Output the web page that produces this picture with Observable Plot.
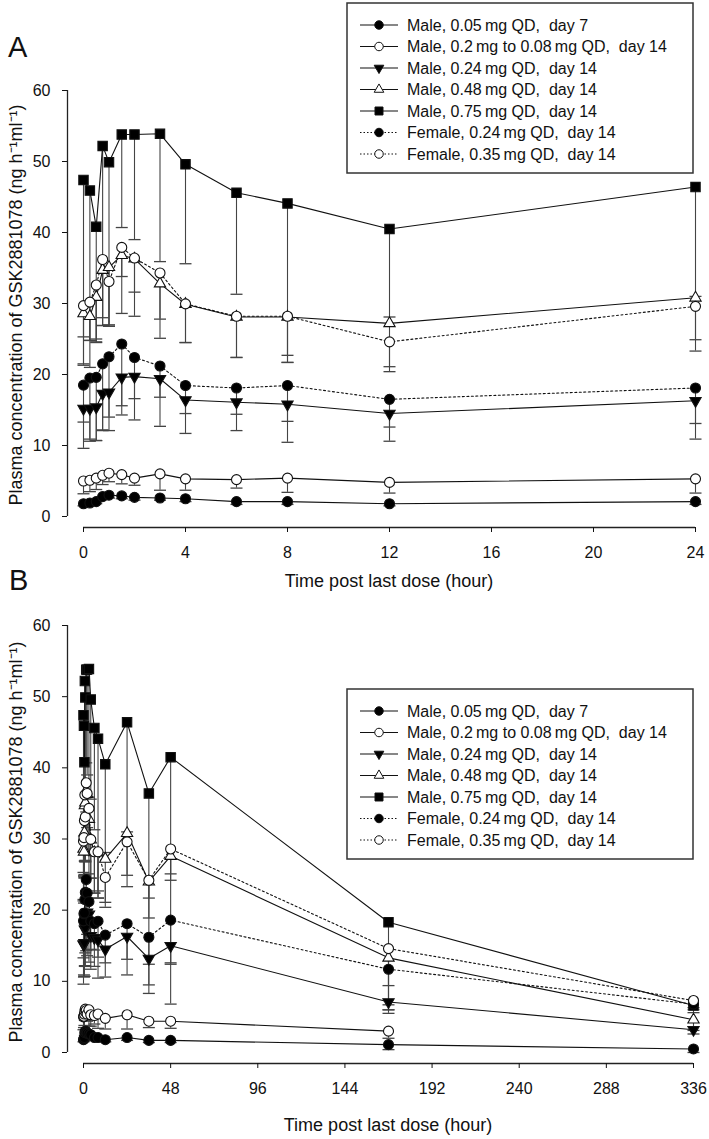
<!DOCTYPE html>
<html><head><meta charset="utf-8">
<script src="https://cdn.jsdelivr.net/npm/d3@7"></script>
<script src="https://cdn.jsdelivr.net/npm/@observablehq/plot@0.6"></script>
<style>
body{margin:0;background:#fff;}
#wrap{position:relative;width:709px;height:1139px;font-family:"Liberation Sans",Arial,sans-serif;overflow:hidden;color:#111;}
.panel{position:absolute;left:0;}
.letter{position:absolute;font-size:29px;line-height:1;}
.legend{position:absolute;}
.xtitle{position:absolute;font-size:18px;line-height:1;white-space:nowrap;transform:translate(-50%,-50%);}
.ytitle{position:absolute;font-size:18px;line-height:1;white-space:nowrap;transform:translate(-50%,-50%) rotate(-90deg);}
</style></head>
<body><div id="wrap"></div>
<script>
// ---------- data ----------
const timesA = [0, 0.25, 0.5, 0.75, 1, 1.5, 2, 3, 4, 6, 8, 12, 24];
const timesB = [0, 0.25, 0.5, 0.75, 1, 1.5, 2, 3, 4, 6, 8, 12, 24, 36, 48, 168, 336];

const seriesNames = [
  "Male, 0.05\u2009mg QD,  day 7",
  "Male, 0.2\u2009mg to 0.08\u2009mg QD,  day 14",
  "Male, 0.24\u2009mg QD,  day 14",
  "Male, 0.48\u2009mg QD,  day 14",
  "Male, 0.75\u2009mg QD,  day 14",
  "Female, 0.24\u2009mg QD,  day 14",
  "Female, 0.35\u2009mg QD,  day 14"
];

// mean concentrations (ng h-1 ml-1), indexed by timesB
const m005 = [1.8, 1.9, 2.1, 2.8, 3.0, 2.9, 2.7, 2.6, 2.5, 2.1, 2.1, 1.8, 2.1, 1.7, 1.7, 1.1, 0.5];
const m02  = [5.0, 5.1, 5.4, 5.8, 6.1, 5.9, 5.4, 6.0, 5.3, 5.2, 5.4, 4.8, 5.3, 4.4, 4.4, 3.0, null];
const m024 = [15.2, 15.2, 15.4, 17.3, 17.5, 19.6, 19.7, 19.4, 16.4, 16.1, 15.8, 14.5, 16.3, 13.2, 15.0, 7.1, 3.2];
const m048 = [28.6, 28.2, 30.9, 34.7, 35.1, 36.8, 36.3, 32.8, 29.9, 28.1, 28.1, 27.2, 30.8, 24.0, 27.6, 13.3, 4.6];
const m075 = [47.4, 45.9, 40.8, 52.2, 49.9, 53.8, 53.8, 53.9, 49.6, 45.6, 44.1, 40.5, 46.4, 36.4, 41.5, 18.3, 6.6];
const f024 = [18.5, 19.5, 19.6, 21.5, 22.5, 24.3, 22.4, 21.2, 18.45, 18.1, 18.45, 16.5, 18.1, 16.2, 18.6, 11.7, 6.8];
const f035 = [29.7, 30.2, 32.6, 36.2, 33.1, 37.9, 36.4, 34.3, 29.95, 28.2, 28.2, 24.6, 29.6, 24.2, 28.6, 14.6, 7.3];

// standard deviations (lower error bar)
const m005sd = [0.3, 0.3, 0.3, 0.4, 0.4, 0.4, 0.4, 0.3, 0.4, 0.4, 0.4, 0.3, 0.4, 0.3, 0.3, 0.7, 0.5];
const m02sd  = [1.8, 1.6, 1.6, 1.3, 1.2, 1.3, 1.0, 2.3, 1.6, 1.2, 2.0, 1.5, 2.0, 0.9, 1.0, 1.0, null];
const m024sd = [5.6, 4.6, 4.7, 5.1, 3.5, 4.0, 3.1, 2.6, 1.9, 1.7, 2.4, 1.9, 3.2, 3.7, 2.6, 1.1, 0.6];
const m048sd = [3.3, 3.4, 5.9, 6.7, 8.1, 3.0, 4.7, 5.0, 5.4, 5.7, 5.4, 6.1, 5.9, 2.3, 3.4, 7.3, 1.5];
const m075sd = [25.9, 21.1, 16.3, 25.3, 23.1, 13.1, 14.8, 18.0, 14.0, 14.3, 22.4, 12.4, 15.4, 28.1, 34.7, 8.9, 1.0];
const f024sd = [5.2, 8.6, 8.9, 9.4, 10.4, 10.0, 8.8, 8.5, 6.75, 6.0, 8.0, 5.9, 7.2, 3.8, 6.0, 5.0, 0.8];
const f035sd = [8.4, 9.2, 8.0, 9.3, 6.3, 9.3, 8.2, 9.2, 5.45, 5.8, 6.5, 4.2, 6.3, 5.3, 3.5, 9.1, 1.0];

const xTicksA = [0, 4, 8, 12, 16, 20, 24];
const xTicksB = [0, 48, 96, 144, 192, 240, 288, 336];
const yTicks = [0, 10, 20, 30, 40, 50, 60];

const yTitle = "Plasma concentration of GSK2881078 (ng h\u207B\u00B9ml\u207B\u00B9)";
const xTitle = "Time post last dose (hour)";

// ---------- symbols ----------
const downTriangle = {
  draw(ctx, size) {
    const s = Math.sqrt(size / (Math.sqrt(3) * 3));
    ctx.moveTo(0, 2 * s);
    ctx.lineTo(-Math.sqrt(3) * s, -s);
    ctx.lineTo(Math.sqrt(3) * s, -s);
    ctx.closePath();
  }
};
const capSymbol = {
  draw(ctx, size) {
    const w = Math.sqrt(size / Math.PI);
    ctx.moveTo(-w, 0);
    ctx.lineTo(w, 0);
  }
};

const means = [m005, m02, m024, m048, m075, f024, f035];
const sds = [m005sd, m02sd, m024sd, m048sd, m075sd, f024sd, f035sd];
const styles = [
  {symbol: "circle", fill: "black", r: 5, dash: null, d3sym: d3.symbolCircle},
  {symbol: "circle", fill: "white", r: 5, dash: null, d3sym: d3.symbolCircle},
  {symbol: downTriangle, fill: "black", r: 4.2, dash: null, d3sym: downTriangle},
  {symbol: "triangle", fill: "white", r: 4.2, dash: null, d3sym: d3.symbolTriangle},
  {symbol: "square", fill: "black", r: 5.3, dash: null, d3sym: d3.symbolSquare},
  {symbol: "circle", fill: "black", r: 5, dash: "2,2.5", d3sym: d3.symbolCircle},
  {symbol: "circle", fill: "white", r: 5, dash: "2,2.5", d3sym: d3.symbolCircle}
];

function rowsFor(times) {
  return seriesNames.map((name, i) =>
    times.map((t, j) => ({series: name, t, v: means[i][j], sd: sds[i][j]}))
      .filter(d => d.v != null)
  );
}

function panel(times, xDomain, xTicks, height, marginTop, marginBottom, marginRight) {
  const perSeries = rowsFor(times);
  const all = perSeries.flat();
  const marks = [];
  // axes lines (detached, SigmaPlot style)
  marks.push(Plot.ruleX([xDomain[0]], {y1: 0, y2: 60, dx: -16, stroke: "#222", strokeWidth: 1.3}));
  marks.push(Plot.ruleY([0], {x1: xDomain[0], x2: xDomain[1], dy: 11, stroke: "#222", strokeWidth: 1.3}));
  marks.push(Plot.axisY({ticks: yTicks, dx: -16, tickSize: 5, tickPadding: 12, fontSize: 16, label: null}));
  marks.push(Plot.axisX({ticks: xTicks, dy: 11, tickSize: 5, tickPadding: 14, fontSize: 16, label: null}));
  // error bars (lower only)
  marks.push(Plot.ruleX(all, {x: "t", y1: d => d.v - d.sd, y2: "v", stroke: "#444", strokeWidth: 1.1}));
  marks.push(Plot.dot(all, {x: "t", y: d => d.v - d.sd, symbol: capSymbol, r: 6, stroke: "#444", strokeWidth: 1.3, fill: "none"}));
  // lines
  perSeries.forEach((rows, i) => {
    marks.push(Plot.line(rows, {x: "t", y: "v", stroke: "#111", strokeWidth: 1.1,
      strokeDasharray: styles[i].dash || undefined}));
  });
  // markers
  perSeries.forEach((rows, i) => {
    const s = styles[i];
    marks.push(Plot.dot(rows, {x: "t", y: "v", symbol: s.symbol, r: s.r, fill: s.fill, stroke: "#111", strokeWidth: 1.1}));
  });
  return Plot.plot({
    width: 709, height, marginTop, marginBottom, marginLeft: 83, marginRight,
    x: {domain: xDomain, axis: null},
    y: {domain: [0, 60], axis: null},
    style: {fontFamily: "'Liberation Sans', Arial, sans-serif", fontSize: "16px", color: "#111", background: "white"},
    marks
  });
}

const wrap = document.getElementById("wrap");
const pA = panel(timesA, [0, 24], xTicksA, 590, 90, 74, 14);
pA.classList.add("panel"); pA.style.top = "0px";
const pB = panel(timesB, [0, 336], xTicksB, 549, 35, 87, 16);
pB.classList.add("panel"); pB.style.top = "590px";
wrap.appendChild(pA); wrap.appendChild(pB);

function addDiv(cls, txt, x, y) {
  const d = document.createElement("div");
  d.className = cls; d.textContent = txt;
  d.style.left = x + "px"; d.style.top = y + "px";
  wrap.appendChild(d);
}
// panel letters
addDiv("letter", "A", 8, 33);
addDiv("letter", "B", 9, 566);
// axis titles
addDiv("xtitle", xTitle, 389, 581);
addDiv("xtitle", xTitle, 388, 1125);
addDiv("ytitle", yTitle, 16, 305);
addDiv("ytitle", yTitle, 16, 842);

// legends
function legend(left, top) {
  const W = 346, H = 170;
  const svg = d3.create("svg").attr("width", W + 2).attr("height", H + 2)
    .attr("class", "legend").style("left", (left - 1) + "px").style("top", (top - 1) + "px");
  svg.append("rect").attr("x", 1).attr("y", 1).attr("width", W).attr("height", H)
    .attr("fill", "white").attr("stroke", "#333").attr("stroke-width", 1.5);
  seriesNames.forEach((name, i) => {
    const y = 23 + i * 21.5;
    const s = styles[i];
    const g = svg.append("g").attr("transform", `translate(0,${y})`);
    g.append("line").attr("x1", 14).attr("x2", 52).attr("y1", 0).attr("y2", 0)
      .attr("stroke", "#111").attr("stroke-width", 1.1)
      .attr("stroke-dasharray", s.dash ? "1.5,2" : null);
    g.append("path").attr("transform", "translate(33,0)")
      .attr("d", d3.symbol(s.d3sym, Math.PI * (s.r * 0.85) ** 2)())
      .attr("fill", s.fill).attr("stroke", "#111").attr("stroke-width", 1);
    g.append("text").attr("x", 61).attr("y", 0).attr("dy", "0.36em")
      .attr("font-family", "'Liberation Sans', Arial, sans-serif").attr("font-size", 16)
      .attr("fill", "#111").style("white-space", "pre").text(name);
  });
  wrap.appendChild(svg.node());
}
legend(347, 3);
legend(347, 689);
</script>
</body></html>
